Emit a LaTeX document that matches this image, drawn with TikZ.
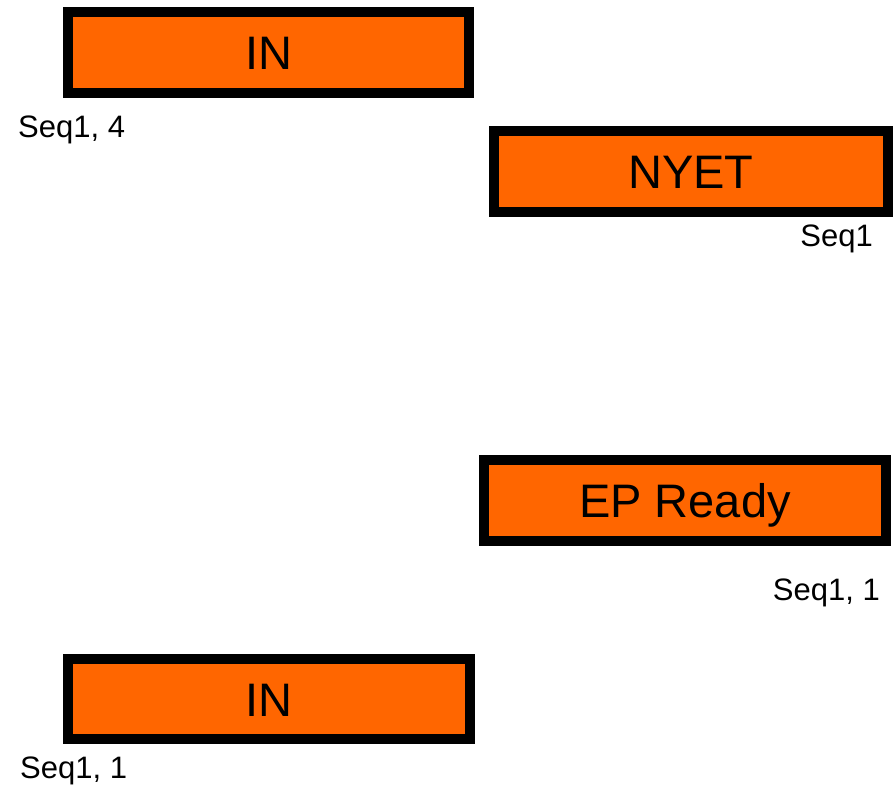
\documentclass[tikz,border=0pt]{standalone}
\usepackage{fontspec}
\setmainfont{Liberation Sans}
\usepackage{tikz}
\usepackage{xcolor}
\definecolor{storange}{HTML}{FF6600}

\begin{document}
\begin{tikzpicture}[
  x=1pt, y=-1pt,
  state/.style={
    rectangle, draw=black, fill=storange, line width=10pt,
    minimum height=81pt, inner sep=0pt, align=center,
    text height=34pt, text depth=0pt,
    font=\fontsize{47}{56}\selectfont
  },
  seq/.style={
    inner sep=0pt, font=\fontsize{31}{36}\selectfont
  },
]
  \useasboundingbox (0,0) rectangle (894,788);

  % States
  \node[state, minimum width=401pt] (in1) at (268.5,52.5) {IN};
  \node[state, minimum width=394pt] (nyet) at (691,171.5) {NYET};
  \node[state, minimum width=402pt] (epready) at (685,500.5) {EP Ready};
  \node[state, minimum width=402pt, minimum height=80pt] (in2) at (269,699) {IN};

  % Sequence labels
  \node[seq, anchor=base west] (seqin1) at (18,137) {Seq1, 4};
  \node[seq, anchor=base east] (seqnyet) at (873,246) {Seq1};
  \node[seq, anchor=base east] (seqep) at (880,600) {Seq1, 1};
  \node[seq, anchor=base west] (seqin2) at (20,778) {Seq1, 1};
\end{tikzpicture}
\end{document}
